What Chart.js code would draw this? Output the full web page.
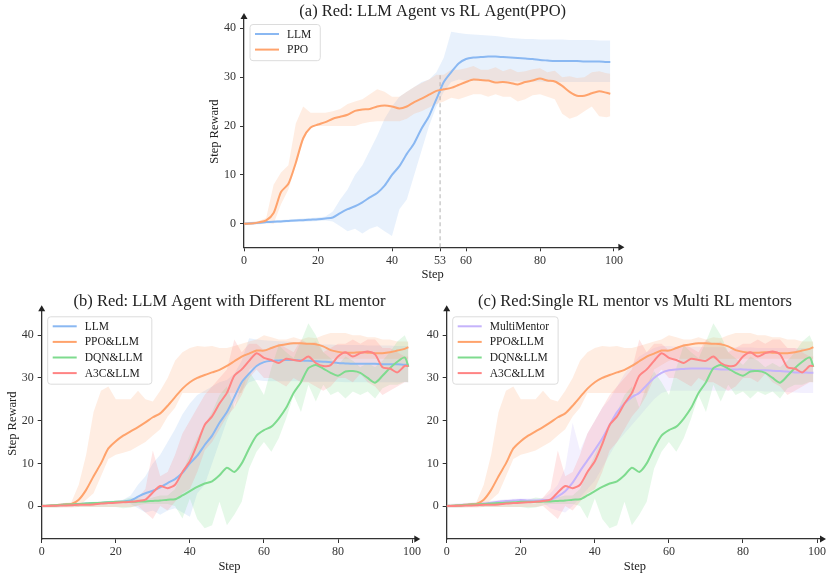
<!DOCTYPE html>
<html lang="en">
  <head>
    <meta charset="UTF-8" />
    <script src="https://cdn.jsdelivr.net/npm/chart.js@4.4.1/dist/chart.umd.min.js"></script>
    <title>Step Reward</title>
    <style>
      body { margin: 0; background: #fff; width: 831px; height: 576px; position: relative; overflow: hidden; }
      canvas { position: absolute; }
    </style>
  </head>
  <body>
    <canvas id="chartA" width="460" height="290" style="left:180px;top:0px;width:460px;height:290px"></canvas>
    <canvas id="chartB" width="425" height="291" style="left:0px;top:285px;width:425px;height:291px"></canvas>
    <canvas id="chartC" width="406" height="291" style="left:425px;top:285px;width:406px;height:291px"></canvas>

    <script>
      // steps (x values)
      const steps = [0, 2, 4, 6, 8, 10, 12, 14, 16, 18, 20, 22, 24, 26, 28, 30, 32, 34, 36, 38, 40, 42, 44, 46, 48,
        50, 52, 54, 56, 58, 60, 62, 64, 66, 68, 70, 72, 74, 76, 78, 80, 82, 84, 86, 88, 90, 92, 94, 96, 98, 99];

      // LLM (used in a and b)
      const llm = [0, 0.1, 0.2, 0.35, 0.45, 0.5, 0.6, 0.7, 0.75, 0.85, 0.95, 1.1, 1.3, 2.2, 3.0, 3.6, 4.4, 5.4, 6.3, 7.8, 10.0,
        11.8, 14.3, 16.5, 19.5, 22.0, 25.5, 29.0, 31.0, 32.8, 33.7, 34.0, 34.1, 34.2, 34.2, 34.1, 34.0, 33.9, 33.8, 33.7,
        33.5, 33.4, 33.3, 33.3, 33.3, 33.3, 33.2, 33.2, 33.2, 33.1, 33.1];
      const llmHi = [0.3, 0.4, 0.5, 0.6, 0.7, 0.8, 0.9, 1.0, 1.1, 1.2, 1.3, 1.5, 2.5, 5, 7, 10, 12, 15, 18, 21.5, 24,
        26, 27, 28, 29, 29.5, 31, 34, 39.3, 39.0, 38.8, 38.7, 38.6, 38.5, 38.4, 38.2, 38.0, 37.9, 37.8, 37.8, 37.7,
        37.7, 37.7, 37.7, 37.6, 37.6, 37.6, 37.6, 37.5, 37.5, 37.5];
      const llmLo = [-0.3, -0.2, -0.1, 0, 0.1, 0.2, 0.3, 0.4, 0.4, 0.5, 0.6, 0.7, 0.5, -0.5, -1.5, -1.0, -2.0, -1.0, -0.5, -1.5, -2.5,
        3, 5, 10, 15, 20, 24, 27, 29, 29.5, 29.3, 29.2, 29.2, 29.2, 29.2, 29.2, 29.1, 29.1, 29.1, 29.1, 29.1,
        29.0, 29.0, 29.0, 29.0, 29.0, 29.0, 29.0, 29.0, 29.0, 29.0];

      // PPO alone (a)
      const ppo = [0, 0.05, 0.3, 0.7, 2.2, 6.5, 8.2, 12.5, 17.5, 19.7, 20.3, 20.8, 21.5, 21.9, 22.3, 23.1, 23.4, 23.5, 24.0, 24.2,
        24.0, 23.6, 24.0, 24.9, 25.6, 26.4, 27.2, 27.5, 27.8, 28.4, 29.0, 29.5, 29.4, 29.3, 28.9, 29.0, 28.8, 28.5, 29.0, 29.3,
        29.7, 29.3, 29.1, 28.2, 27.0, 26.2, 26.2, 26.7, 27.1, 26.8, 26.6];
      const ppoHi = [0.3, 0.35, 0.6, 1.2, 8, 10.5, 12, 20.5, 24, 22.7, 22.7, 22.7, 23, 23.5, 24.5, 25, 25.5, 26.5, 27.5, 27,
        26, 26, 27, 28, 28.8, 29.5, 30.5, 30.5, 31.5, 31.5, 31.8, 32.3, 31.5, 31.5, 32, 31.2, 31.7, 31, 31.2, 31.6,
        31.8, 31, 31.3, 30, 30.2, 29.8, 30, 31, 31.2, 30.8, 30.7];
      const ppoLo = [-0.2, -0.2, 0, 0.3, 0, 4, 7, 12, 17, 20, 20, 20, 20, 20, 20, 20, 20.5, 20.8, 21, 21,
        21, 21, 21.5, 22.5, 23, 23.8, 24.5, 25, 25.8, 25.5, 26, 26.5, 26.5, 26, 26.5, 26, 26, 25, 25.5, 26.3,
        26.5, 26, 25.5, 22.5, 21.5, 22, 23, 24, 22, 21.8, 22];

      // PPO&LLM (b, c)
      const ppoLlm = [0, 0.1, 0.2, 0.4, 0.5, 1.5, 3.8, 7, 10, 13.5, 15.2, 16.5, 17.5, 18.5, 19.6, 20.8, 21.7, 23.5, 25.5, 27.5,
        29, 30, 30.7, 31.3, 31.9, 32.8, 33.9, 35, 35.7, 36.4, 36.4, 37, 37.6, 37.9, 38.1, 38.1, 38, 37.9, 37.4, 36.5,
        36.1, 35.9, 35.9, 36, 35.9, 35.8, 35.8, 36, 36.4, 36.8, 37.2];
      const ppoLlmHi = [0.3, 0.4, 0.5, 0.7, 0.9, 5, 12, 22, 27, 28, 25, 25, 25, 27, 25, 24.5, 27, 30, 34, 36,
        37, 37.5, 37.3, 37.5, 37, 37, 37.5, 38, 38.5, 39, 40, 39.5, 39, 39, 39.5, 39, 39.5, 39.3, 40, 40.5,
        40.5, 40.5, 40, 40, 39.5, 39.5, 39, 39, 38.5, 38.5, 38.5];
      const ppoLlmLo = [-0.2, -0.1, 0, 0.1, 0.2, -0.2, 1.5, 3, 7, 11, 12, 12.5, 13, 14, 15, 16.5, 18, 21, 23, 26.5,
        26.5, 26.5, 26.5, 26.5, 26.5, 26.5, 26.5, 26.5, 32, 33, 34, 34.5, 34.5, 34.5, 34.5, 34.5, 34.5, 34.5, 34.5, 34.5,
        34.5, 34.5, 34.5, 34.5, 34.5, 34.5, 34.5, 34.5, 34.5, 34.5, 34.5];

      // DQN&LLM (b, c)
      const dqnLlm = [0, 0.1, 0.2, 0.3, 0.4, 0.5, 0.6, 0.7, 0.8, 0.9, 1.0, 1.0, 1.0, 1.05, 1.1, 1.2, 1.3, 1.5, 1.6, 2.5,
        3.5, 4.5, 5.3, 5.8, 7.2, 9.0, 8.0, 10.0, 13.5, 16.5, 17.8, 18.6, 20.5, 23, 26.5, 29, 32.3, 33, 32.2, 31.2,
        30.5, 31.5, 31.6, 31.2, 30, 28.9, 30.5, 32.3, 33.8, 34.8, 32.6];
      const dqnLlmHi = [0.5, 0.5, 0.5, 0.6, 0.6, 0.7, 0.7, 0.7, 0.8, 0.8, 0.8, 1.5, 2, 1.8, 1.5, 2, 2.5, 2.5, 4, 8,
        12, 16, 19, 22, 26, 28, 23, 28.4, 31.5, 29, 26, 32.3, 37.7, 36, 34.6, 38.5, 42.8, 40, 36, 34.6,
        33, 35, 34, 32.5, 33.5, 32.5, 34, 36, 38.5, 40, 38];
      const dqnLlmLo = [-0.3, -0.3, -0.3, -0.2, -0.2, -0.2, -0.2, -0.2, -0.2, -0.2, -0.2, -0.5, -0.3, 0.2, 0.5, 0.5, 0.5, 0.5, 0, -2.9,
        1.8, -3, -5.2, -4.5, 1, -4.5, -2, 1, 8.8, 12.7, 15, 12.7, 15.9, 20.5, 26, 22, 28.4, 24.5, 28.4, 26,
        26.8, 25.2, 26.8, 26, 26.8, 25.2, 27.6, 28.4, 28.4, 29.1, 29];

      // A3C&LLM (b, c)
      const a3cLlm = [0, 0.05, 0.1, 0.15, 0.2, 0.3, 0.3, 0.4, 0.6, 0.7, 0.8, 0.9, 1.0, 1.2, 1.5, 3.2, 4.7, 4.2, 5.0, 8.0,
        10.5, 14.5, 19, 21, 24, 26.5, 30.5, 32, 34, 35.8, 34.7, 34.2, 33.5, 34.5, 34.2, 34, 35, 33.5, 32.8, 33,
        35, 36, 35, 35.8, 36.2, 35.5, 32.5, 32.2, 31.3, 32.8, 32.8];
      const a3cLlmHi = [0.4, 0.4, 0.4, 0.4, 0.4, 0.5, 0.5, 0.5, 0.6, 0.6, 0.6, 0.6, 0.6, 2, 4, 13, 7, 8, 12, 17,
        20, 23, 26, 28, 30, 32, 39, 36, 38, 38, 36.5, 37, 38, 37, 36, 39, 38, 38.5, 36, 37,
        38, 38, 39, 38, 39, 39, 37, 37, 36, 35, 35];
      const a3cLlmLo = [-0.3, -0.3, -0.3, -0.3, -0.3, -0.2, -0.2, -0.2, -0.2, -0.2, -0.2, -0.2, -0.2, 0, -1.5, -3, 0, -1, 1, 3,
        4, 8, 13, 15, 18, 21, 23, 26, 30, 32, 30, 30, 29, 28, 30, 29, 29, 28, 27, 28,
        30, 30, 29, 31, 29, 28, 26, 27, 28, 29, 29];

      // MultiMentor (c)
      const multi = [0, 0.1, 0.25, 0.4, 0.5, 0.6, 0.8, 1.0, 1.2, 1.3, 1.4, 1.3, 1.3, 1.4, 1.5, 2.3, 3.5, 5.5, 8.2, 10.7,
        13.2, 15.8, 19, 22, 24, 25.5, 26.5, 28.3, 30, 31.2, 31.8, 32, 32.1, 32.2, 32.2, 32.2, 32.1, 32.0, 32.0, 32.0,
        32.0, 31.9, 31.8, 31.8, 31.7, 31.6, 31.5, 31.3, 31.3, 31.2, 31.2];
      const multiHi = [0.5, 0.6, 0.7, 0.8, 0.9, 1.0, 1.2, 1.4, 1.6, 1.7, 1.8, 1.8, 1.8, 1.9, 3, 5, 9, 19.5, 13, 17,
        20, 23, 25, 28, 31, 33, 35, 36, 37, 37.5, 37.5, 37.3, 37.3, 37.3, 37.3, 37.2, 37.2, 37.2, 37.2, 37.1,
        37.1, 37.1, 37, 37, 37, 37, 37, 37, 37, 37, 37];
      const multiLo = [-0.3, -0.3, -0.2, 0, 0.1, 0.2, 0.3, 0.5, 0.6, 0.7, 0.8, 0.8, 0.8, 0.8, -0.5, -1, -1.5, 0, 2, 4,
        6, 9, 12, 15, 17, 19, 21, 23, 25, 26.5, 27, 27, 27, 27, 27, 27, 27, 27, 27, 27,
        27, 27, 27, 26.8, 26.8, 26.8, 26.7, 26.6, 26.5, 26.5, 26.5];

      // tick labels / markers
      const yTicks = [0, 10, 20, 30, 40];
      const xTicksA = [0, 20, 40, 53, 60, 80, 100];
      const xTicksBC = [0, 20, 40, 60, 80, 100];
      const crossStep = 53;
      const crossTop = 30.5;

      const colors = {
        blue: [138, 184, 242],
        orange: [255, 163, 108],
        green: [126, 219, 142],
        red: [255, 132, 132],
        purple: [197, 179, 251],
      };
      const FONT = '"Liberation Serif", "DejaVu Serif", serif';

      function pts(vals) {
        return vals.map((v, i) => ({ x: steps[i], y: v }));
      }
      function rgb(c, a) {
        return a === undefined ? `rgb(${c[0]},${c[1]},${c[2]})` : `rgba(${c[0]},${c[1]},${c[2]},${a})`;
      }

      // one series = band (upper+lower) + mean line
      function series(label, col, line, hi, lo, i) {
        return [
          { label: label + " hi", data: pts(hi), borderWidth: 0, pointRadius: 0, tension: 0,
            backgroundColor: rgb(col, 0.2), fill: "+1", order: 100 - i },
          { label: label + " lo", data: pts(lo), borderWidth: 0, pointRadius: 0, tension: 0,
            fill: false, order: 100 - i },
          { label: label, data: pts(line), borderColor: rgb(col), borderWidth: 2, pointRadius: 0,
            tension: 0.25, fill: false, order: -i },
        ];
      }

      function deco(cfg) {
        return {
          id: "deco",
          beforeDatasetsDraw(chart) {
            if (cfg.vline === undefined) return;
            const { ctx, chartArea: a, scales } = chart;
            const x = scales.x.getPixelForValue(cfg.vline);
            ctx.save();
            ctx.strokeStyle = "#c4c4c4";
            ctx.lineWidth = 1.3;
            ctx.setLineDash([4, 3]);
            ctx.beginPath();
            ctx.moveTo(x, a.bottom);
            ctx.lineTo(x, scales.y.getPixelForValue(cfg.vtop));
            ctx.stroke();
            ctx.restore();
          },
          afterDraw(chart) {
            const { ctx, chartArea: a } = chart;
            ctx.save();
            // arrow heads
            ctx.fillStyle = "#222";
            ctx.beginPath();
            ctx.moveTo(a.left, a.top - 3);
            ctx.lineTo(a.left - 3.5, a.top + 3);
            ctx.lineTo(a.left + 3.5, a.top + 3);
            ctx.closePath();
            ctx.fill();
            ctx.beginPath();
            ctx.moveTo(a.right + 3, a.bottom);
            ctx.lineTo(a.right - 3, a.bottom - 3.5);
            ctx.lineTo(a.right - 3, a.bottom + 3.5);
            ctx.closePath();
            ctx.fill();

            const cx = (a.left + a.right) / 2;
            ctx.fillStyle = "#222";
            ctx.textAlign = "center";
            ctx.textBaseline = "alphabetic";
            ctx.font = "16.5px " + FONT;
            ctx.fillText(cfg.title, cx, cfg.titleY);
            ctx.font = "12.5px " + FONT;
            ctx.fillText("Step", cx, a.bottom + 31);
            if (cfg.yLabel) {
              ctx.save();
              ctx.translate(a.left - 29, (a.top + a.bottom) / 2);
              ctx.rotate(-Math.PI / 2);
              ctx.textBaseline = "middle";
              ctx.fillText(cfg.yLabel, 0, 0);
              ctx.restore();
            }

            // legend
            ctx.font = "11.5px " + FONT;
            const items = cfg.legend;
            let tw = 0;
            items.forEach((it) => (tw = Math.max(tw, ctx.measureText(it.label).width)));
            const bx = a.left + 6, by = a.top + 8.5;
            const bw = 37 + tw + 9, bh = items.length * 15.6 + 5;
            ctx.fillStyle = "rgba(255,255,255,0.8)";
            ctx.strokeStyle = "#dcdcdc";
            ctx.lineWidth = 1;
            ctx.beginPath();
            ctx.roundRect(bx, by, bw, bh, 3);
            ctx.fill();
            ctx.stroke();
            ctx.textAlign = "left";
            ctx.textBaseline = "middle";
            items.forEach((it, i) => {
              const y = by + 9.5 + i * 15.6;
              ctx.strokeStyle = rgb(it.color);
              ctx.lineWidth = 2;
              ctx.beginPath();
              ctx.moveTo(bx + 5, y);
              ctx.lineTo(bx + 29, y);
              ctx.stroke();
              ctx.fillStyle = "#222";
              ctx.fillText(it.label, bx + 37, y + 0.5);
            });
            ctx.restore();
          },
        };
      }

      function makeChart(id, cfg) {
        const ctx = document.getElementById(id).getContext("2d");
        return new Chart(ctx, {
          type: "line",
          data: { datasets: cfg.datasets },
          options: {
            responsive: false,
            animation: false,
            devicePixelRatio: 1,
            layout: { padding: { left: 0, right: cfg.padRight, top: cfg.padTop, bottom: 0 } },
            plugins: { legend: { display: false }, tooltip: { enabled: false }, title: { display: false } },
            scales: {
              x: {
                type: "linear",
                min: 0,
                max: cfg.xMax,
                afterBuildTicks: (s) => (s.ticks = cfg.xTicks.map((v) => ({ value: v }))),
                afterFit: (s) => (s.height = cfg.xHeight),
                grid: { drawOnChartArea: false, drawTicks: true, tickLength: 4, color: "#333", lineWidth: 1 },
                border: { display: true, color: "#333", width: 1.3 },
                ticks: { font: { family: FONT, size: 12 }, color: "#333", padding: 2, maxRotation: 0, autoSkip: false },
              },
              y: {
                type: "linear",
                min: cfg.yMin,
                max: cfg.yMax,
                afterBuildTicks: (s) => (s.ticks = yTicks.map((v) => ({ value: v }))),
                afterFit: (s) => (s.width = cfg.yWidth),
                grid: { drawOnChartArea: false, drawTicks: true, tickLength: 4, color: "#333", lineWidth: 1 },
                border: { display: true, color: "#333", width: 1.3 },
                ticks: { font: { family: FONT, size: 12 }, color: "#333", padding: 4 },
              },
            },
          },
          plugins: [deco(cfg)],
        });
      }

      // (a)
      makeChart("chartA", {
        datasets: [
          ...series("LLM", colors.blue, llm, llmHi, llmLo, 0),
          ...series("PPO", colors.orange, ppo, ppoHi, ppoLo, 1),
        ],
        title: "(a) Red: LLM Agent vs RL Agent(PPO)",
        titleY: 15.5,
        yLabel: "Step Reward",
        legend: [
          { label: "LLM", color: colors.blue },
          { label: "PPO", color: colors.orange },
        ],
        vline: crossStep,
        vtop: crossTop,
        xTicks: xTicksA,
        xMax: 102,
        yMin: -4.8,
        yMax: 42.5,
        yWidth: 64,
        xHeight: 42.7,
        padRight: 18.6,
        padTop: 16,
      });

      // (b)
      makeChart("chartB", {
        datasets: [
          ...series("LLM", colors.blue, llm, llmHi, llmLo, 0),
          ...series("PPO&LLM", colors.orange, ppoLlm, ppoLlmHi, ppoLlmLo, 1),
          ...series("DQN&LLM", colors.green, dqnLlm, dqnLlmHi, dqnLlmLo, 2),
          ...series("A3C&LLM", colors.red, a3cLlm, a3cLlmHi, a3cLlmLo, 3),
        ],
        title: "(b) Red: LLM Agent with Different RL mentor",
        titleY: 20.7,
        yLabel: "Step Reward",
        legend: [
          { label: "LLM", color: colors.blue },
          { label: "PPO&LLM", color: colors.orange },
          { label: "DQN&LLM", color: colors.green },
          { label: "A3C&LLM", color: colors.red },
        ],
        xTicks: xTicksBC,
        xMax: 101.4,
        yMin: -7.7,
        yMax: 46.3,
        yWidth: 41.7,
        xHeight: 37,
        padRight: 7.7,
        padTop: 23.3,
      });

      // (c)
      makeChart("chartC", {
        datasets: [
          ...series("MultiMentor", colors.purple, multi, multiHi, multiLo, 0),
          ...series("PPO&LLM", colors.orange, ppoLlm, ppoLlmHi, ppoLlmLo, 1),
          ...series("DQN&LLM", colors.green, dqnLlm, dqnLlmHi, dqnLlmLo, 2),
          ...series("A3C&LLM", colors.red, a3cLlm, a3cLlmHi, a3cLlmLo, 3),
        ],
        title: "(c) Red:Single RL mentor vs Multi RL mentors",
        titleY: 20.7,
        yLabel: null,
        legend: [
          { label: "MultiMentor", color: colors.purple },
          { label: "PPO&LLM", color: colors.orange },
          { label: "DQN&LLM", color: colors.green },
          { label: "A3C&LLM", color: colors.red },
        ],
        xTicks: xTicksBC,
        xMax: 101.6,
        yMin: -7.7,
        yMax: 46.3,
        yWidth: 21.7,
        xHeight: 37,
        padRight: 8,
        padTop: 23.3,
      });
    </script>
  </body>
</html>
